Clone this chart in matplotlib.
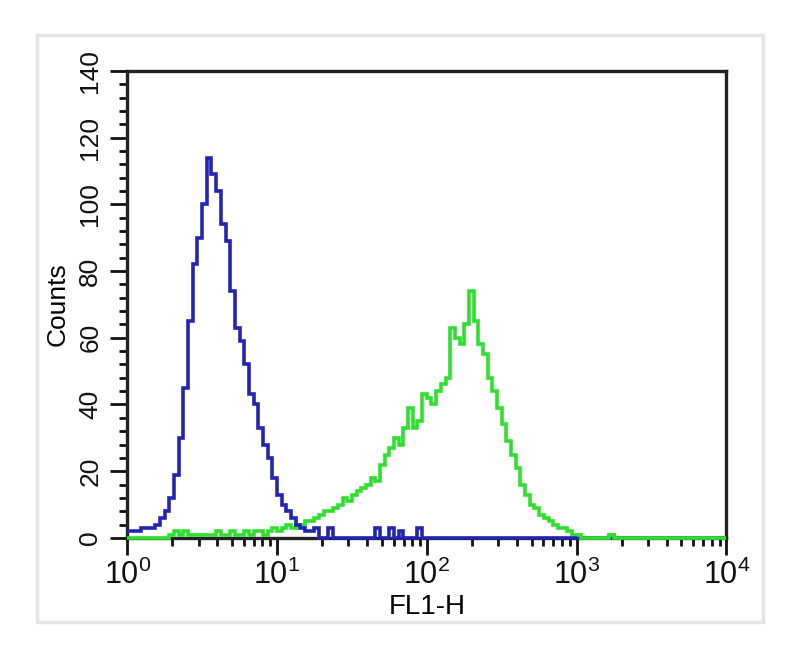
import numpy as np
import matplotlib
matplotlib.use('Agg')
import matplotlib.pyplot as plt
from matplotlib.ticker import MultipleLocator, LogLocator, NullFormatter, FixedLocator
from matplotlib.patches import Rectangle

# histogram channels: 128 log bins across 10^0 .. 10^4
n_bins = 128
log_lo, log_hi = 0, 4

# isotype control (blue)
blue_counts = [
	2, 2, 2, 3, 3, 3, 4, 6, 8, 12,
	19, 30, 45, 65, 82, 90, 100, 114, 109, 104,
	94, 89, 74, 63, 59, 52, 43, 40, 33, 28,
	24, 18, 13, 10, 8, 6, 4, 3, 2, 2,
	3, 0, 0, 3, 0, 0, 0, 0, 0, 0,
	0, 0, 0, 3, 0, 0, 3, 0, 2, 0,
	0, 0, 3, 0, 0, 0, 0, 0, 0, 0,
	0, 0, 0, 0, 0, 0, 0, 0, 0, 0,
	0, 0, 0, 0, 0, 0, 0, 0, 0, 0,
	0, 0, 0, 0, 0, 0, 0, 0, 0, 0,
	0, 0, 0, 0, 0, 0, 0, 0, 0, 0,
	0, 0, 0, 0, 0, 0, 0, 0, 0, 0,
	0, 0, 0, 0, 0, 0, 0, 0,
]

# stained sample (green)
green_counts = [
	0, 0, 0, 0, 0, 0, 0, 0, 0, 1,
	2, 1, 2, 1, 1, 1, 1, 1, 1, 2,
	1, 1, 2, 1, 1, 2, 1, 2, 2, 1,
	2, 3, 2, 3, 4, 3, 4, 4, 5, 5,
	6, 7, 8, 8, 9, 10, 12, 11, 13, 14,
	15, 16, 18, 17, 22, 25, 27, 30, 28, 33,
	39, 33, 35, 43, 42, 40, 44, 46, 48, 63,
	60, 58, 64, 74, 65, 58, 55, 48, 44, 39,
	34, 29, 25, 21, 16, 13, 10, 9, 7, 6,
	5, 4, 3, 3, 2, 1, 1, 0, 0, 0,
	0, 0, 0, 1, 0, 0, 0, 0, 0, 0,
	0, 0, 0, 0, 0, 0, 0, 0, 0, 0,
	0, 0, 0, 0, 0, 0, 0, 0,
]

y_ticks = [0, 20, 40, 60, 80, 100, 120, 140]

plt.rcParams['font.family'] = ['Liberation Sans', 'DejaVu Sans']
plt.rcParams['mathtext.fontset'] = 'custom'
plt.rcParams['mathtext.rm'] = 'Liberation Sans'

fig = plt.figure(figsize=(8, 6.56), dpi=100)
ax = fig.add_axes([0.159, 0.18, 0.749, 0.712])

edges = np.logspace(log_lo, log_hi, n_bins + 1)
green = '#2ee02e'
blue = '#2323b4'
ax.stairs(green_counts, edges, baseline=None, color=green, lw=2.6, zorder=3, clip_on=False)
ax.stairs(blue_counts, edges, baseline=None, color=blue, lw=2.6, zorder=4, clip_on=False)
# green on top where both sit on zero at the right
ax.stairs(green_counts[96:], edges[96:], baseline=None, color=green, lw=2.6, zorder=5, clip_on=False)

ax.set_xscale('log')
ax.set_xlim(1, 1e4)
ax.set_ylim(0, 140)

ax.yaxis.set_major_locator(FixedLocator(y_ticks))
ax.yaxis.set_minor_locator(MultipleLocator(4))
ax.xaxis.set_minor_locator(LogLocator(base=10, subs=np.arange(2, 10)))
ax.xaxis.set_minor_formatter(NullFormatter())

ax.tick_params(axis='both', which='major', direction='out', width=2, colors='#111111')
ax.tick_params(axis='y', which='major', length=12, labelsize=19, pad=6)
ax.tick_params(axis='x', which='major', length=12, labelsize=22, pad=4)
ax.tick_params(axis='both', which='minor', direction='out', width=2, length=6, colors='#111111')
for lab in ax.get_yticklabels():
	lab.set_rotation(90)
	lab.set_va('center')

for s in ax.spines.values():
	s.set_linewidth(2.4)
	s.set_color('#222222')

ax.set_ylabel('Counts', fontsize=19, labelpad=6)
ax.set_xlabel('FL1-H', fontsize=20, labelpad=2)

fig.patches.append(Rectangle((0.046, 0.052), 0.908, 0.895, transform=fig.transFigure,
	fill=False, ec='#e4e4e4', lw=2.5))

fig.savefig('out.png', dpi=100)
